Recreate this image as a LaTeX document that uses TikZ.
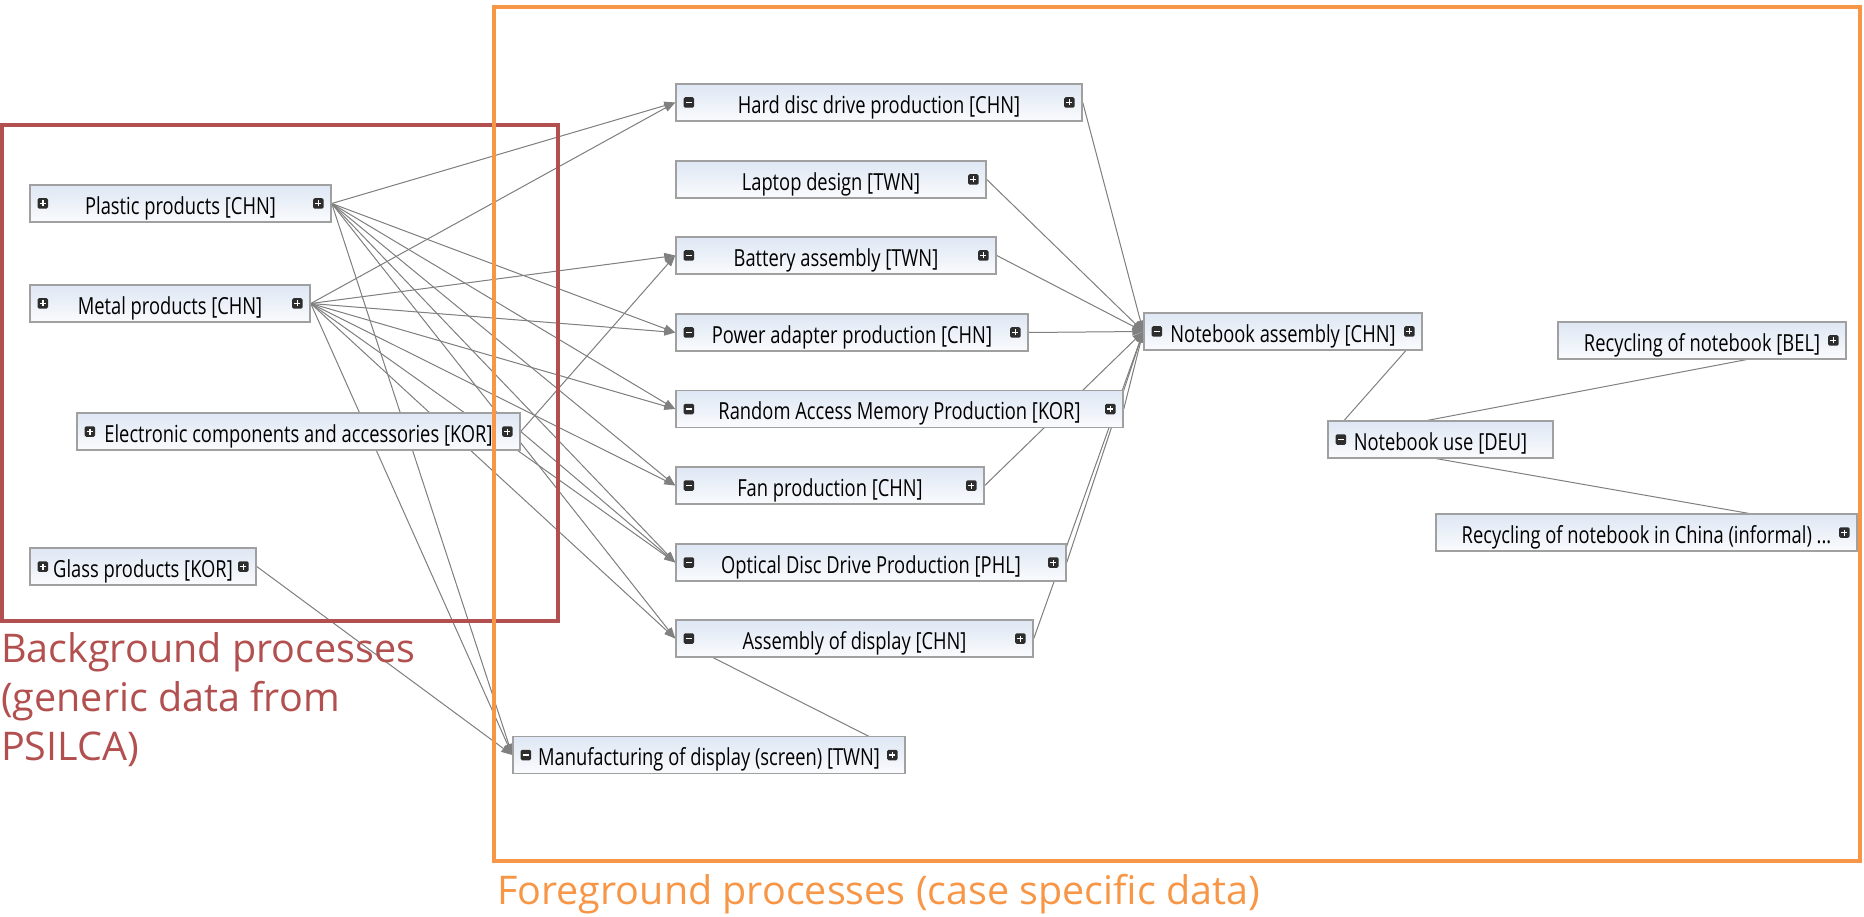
\documentclass[tikz,border=0pt]{standalone}
\usepackage{fontspec}
\setmainfont{Open Sans}
\newfontfamily\boxfont[FakeStretch=0.78]{Open Sans}
\usetikzlibrary{arrows.meta}
\pgfdeclarelayer{bg}
\pgfsetlayers{bg,main}

\tikzset{
  proc/.style={draw={rgb, 255:red, 160; green, 160; blue, 160}, line width=1.5,
    top color={rgb, 255:red, 222; green, 231; blue, 244}, bottom color={rgb, 255:red, 250; green, 251; blue, 253},
    minimum height=37, inner sep=0, text height=24, text depth=2.4,
    font=\boxfont\fontsize{23.5}{28}\selectfont},
  flow/.style={draw={rgb, 255:red, 128; green, 128; blue, 128}, line width=1},
  feed/.style={flow, -{Triangle[length=11,width=8]}, fill={rgb, 255:red, 128; green, 128; blue, 128}},
  btn/.style={fill={rgb, 255:red, 45; green, 45; blue, 45}, rounded corners=1.5, minimum size=10.5, inner sep=0},
  plusbtn/.style={btn, path picture={\draw[white, line width=1.5] (path picture bounding box.center) +(-3,0) -- +(3,0) (path picture bounding box.center) +(0,-3) -- +(0,3);}},
  minusbtn/.style={btn, path picture={\draw[white, line width=1.5] (path picture bounding box.center) +(-3,0) -- +(3,0);}},
}

\begin{document}
\begin{tikzpicture}[x=1pt,y=1pt,yscale=-1]
\path (0,0) rectangle (1864,917);

% Background processes
\node[proc, minimum width=301] (plastic) at (180.5,203.5) {Plastic products [CHN]};
\node[proc, minimum width=280] (metal) at (170,303.5) {Metal products [CHN]};
\node[proc, minimum width=443] (elec) at (298.5,431.5) {Electronic components and accessories [KOR]};
\node[proc, minimum width=226] (glass) at (143,566.5) {Glass products [KOR]};

% Foreground processes
\node[proc, minimum width=406] (hdd) at (879,102.5) {Hard disc drive production [CHN]};
\node[proc, minimum width=310] (design) at (831,179.5) {Laptop design [TWN]};
\node[proc, minimum width=320] (battery) at (836,255.5) {Battery assembly [TWN]};
\node[proc, minimum width=352] (power) at (852,332.5) {Power adapter production [CHN]};
\node[proc, minimum width=447] (ram) at (899.5,409) {Random Access Memory Production [KOR]};
\node[proc, minimum width=308] (fan) at (830,485.5) {Fan production [CHN]};
\node[proc, minimum width=390] (odd) at (871,562.5) {Optical Disc Drive Production [PHL]};
\node[proc, minimum width=357] (asmdisp) at (854.5,638.5) {Assembly of display [CHN]};
\node[proc, minimum width=392] (mfg) at (709,755) {Manufacturing of display (screen) [TWN]};
\node[proc, minimum width=278] (nbasm) at (1283,331.5) {Notebook assembly [CHN]};
\node[proc, minimum width=225] (nbuse) at (1440.5,439.5) {Notebook use [DEU]};
\node[proc, minimum width=288] (recbel) at (1702,340.5) {Recycling of notebook [BEL]};
\node[proc, minimum width=421] (recchn) at (1646.5,532.5) {Recycling of notebook in China (informal) ...};

% expand / collapse buttons
\foreach \n in {plastic,metal,elec,glass}
  \node[plusbtn] (\n-l) at ([xshift=13.5]\n.west) {};
\foreach \n in {hdd,battery,power,ram,fan,odd,asmdisp,mfg,nbasm,nbuse}
  \node[minusbtn] (\n-l) at ([xshift=13.5]\n.west) {};
\foreach \n in {plastic,metal,elec,glass,hdd,design,battery,power,ram,fan,odd,asmdisp,mfg,nbasm,recbel,recchn}
  \node[plusbtn] (\n-r) at ([xshift=-13.5]\n.east) {};

\begin{pgfonlayer}{bg}
% inputs from the background
\foreach \t in {hdd,power,ram,fan,odd,asmdisp,mfg}
  \draw[feed] (plastic.east) -- (\t.west);
\foreach \t in {hdd,battery,power,ram,fan,odd,asmdisp,mfg}
  \draw[feed] (metal.east) -- (\t.west);
\draw[feed] (elec.east) -- (battery.west);
\draw[feed] (elec.east) -- (odd.west);
\draw[feed] (glass.east) -- (mfg.west);
\draw[feed] (mfg.east) -- (asmdisp.west);
% parts into the notebook
\foreach \s in {hdd,design,battery,power,ram,fan,odd,asmdisp}
  \draw[feed] (\s.east) -- (nbasm.west);
% use and end of life
\draw[flow] (nbasm.east) -- (nbuse.west);
\draw[flow] (nbuse.west) -- (recbel.east);
\draw[flow] (nbuse.west) -- (recchn.east);
\end{pgfonlayer}

% frames
\draw[draw={rgb, 255:red, 178; green, 80; blue, 80}, line width=4] (2,125) rectangle (558,621);
\draw[draw={rgb, 255:red, 247; green, 150; blue, 70}, line width=4] (494,7) rectangle (1860,861);

% Text Node
\node[anchor=north west, inner sep=0, align=left, text={rgb, 255:red, 178; green, 80; blue, 80}, font=\fontsize{39.5}{49}\selectfont] (bglabel) at (1,632) {Background processes\\(generic data from\\PSILCA)};
% Text Node
\node[anchor=base west, inner sep=0, text={rgb, 255:red, 247; green, 150; blue, 70}, font=\fontsize{39.5}{49}\selectfont] (fglabel) at (497,904) {Foreground processes (case specific data)};

\end{tikzpicture}
\end{document}
